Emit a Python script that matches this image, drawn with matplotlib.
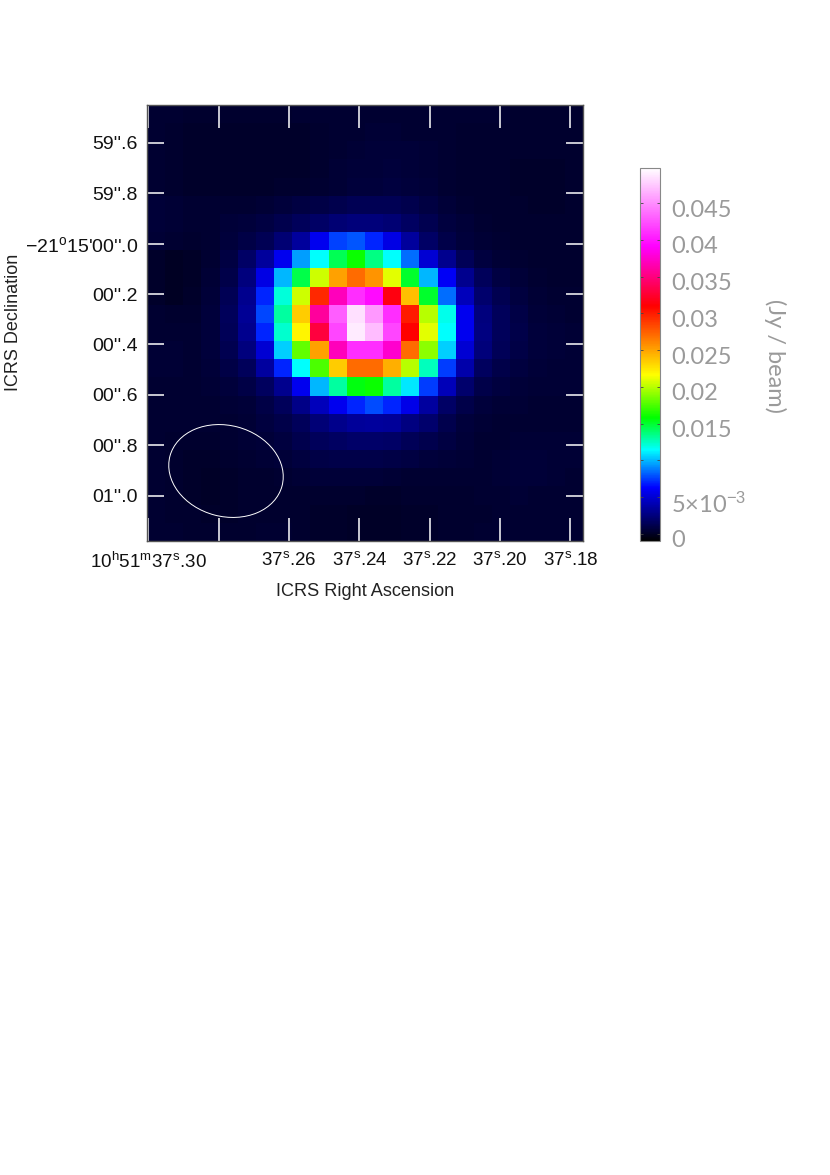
import numpy as np
import matplotlib
matplotlib.use("Agg")
import matplotlib.pyplot as plt
from matplotlib.colors import LinearSegmentedColormap
from matplotlib.patches import Ellipse
from matplotlib.transforms import ScaledTranslation, IdentityTransform

plt.rcParams['font.family'] = ['Liberation Sans', 'DejaVu Sans']
plt.rcParams['mathtext.fontset'] = 'custom'
plt.rcParams['mathtext.rm'] = 'Liberation Sans'
plt.rcParams['mathtext.default'] = 'rm'

# Flux per cell in mJy/beam, rows from top to bottom
flux_mjy = [
 [.3,.3,.25,.2,.2,.2,.2,.25,.3,.3,.3,.3,.3,.35,.3,.3,.3,.3,.3,.3,.25,.25,.25,.25],
 [.3,.2,.15,.1,.1,.1,.1,.15,.15,.2,.3,.35,.4,.4,.35,.3,.3,.25,.25,.2,.2,.2,.2,.25],
 [.3,.2,.1,.1,.1,.1,.1,.1,.15,.2,.35,.45,.5,.55,.5,.4,.3,.25,.2,.2,.2,.2,.2,.2],
 [.3,.2,.1,.1,.1,.1,.1,.15,.15,.25,.4,.5,.55,.6,.55,.45,.3,.25,.2,.2,.15,.15,.15,.2],
 [.35,.25,.15,.1,.1,.15,.15,.2,.25,.35,.45,.6,.65,.7,.6,.5,.35,.25,.2,.2,.15,.15,.15,.2],
 [.5,.4,.3,.3,.3,.35,.4,.6,.8,.9,1.1,1.3,1.35,1.3,1.1,.8,.5,.3,.25,.2,.2,.15,.15,.2],
 [.5,.4,.3,.3,.5,.6,.8,1.1,1.5,1.8,2.2,2.4,2.4,2.2,1.7,1.2,.7,.5,.3,.25,.2,.2,.2,.25],
 [.4,.3,.2,.3,.6,.9,1.3,2.2,3.4,5.8,7.6,8,7,5.5,3.4,1.8,1,.6,.4,.3,.25,.2,.2,.25],
 [.1,-.05,.05,.3,.8,1.8,3.4,5.8,9.5,11.5,14.3,16,13.5,11.5,8.5,5,3,1.4,.7,.4,.3,.2,.2,.25],
 [.1,-.05,.05,.4,1.0,2.5,5.5,10,14.5,20.5,25,27,25.5,21,15,10,6,3,1.5,.8,.5,.3,.25,.25],
 [.1,-.05,.1,.5,1.3,3,7,12,20.5,29.5,37,41,39.5,31.5,24,15,8.5,4.3,2,1.2,.7,.4,.3,.3],
 [.3,.2,.25,.6,1.5,3.2,7.7,13,23.5,36,43,48.5,45.5,41,30,20,11.7,5.8,2.5,1.5,.9,.5,.4,.35],
 [.35,.3,.3,.6,1.4,3,7,12.2,22,33,42,49,47,42,31,21,11.5,5.8,2.6,1.5,1,.6,.5,.4],
 [.4,.4,.35,.6,1.2,2.5,5,10.5,18,25,37,41,41,37.5,27,19,10.5,5,2.4,1.4,.9,.6,.5,.45],
 [.4,.4,.35,.5,.9,1.5,3.5,7,11.5,17.5,23.5,27,27,24.5,20,12.5,7.5,3.8,1.6,1,.7,.5,.45,.45],
 [.35,.35,.35,.4,.6,.9,1.6,3,5.8,10,13,15.5,16,13,11,7.5,4.2,2,1,.7,.5,.4,.4,.4],
 [.3,.3,.3,.3,.4,.5,.9,1.5,2.8,4.3,5.8,7,7.8,7,5.6,3.5,1.8,1,.6,.4,.4,.35,.35,.35],
 [.3,.3,.3,.3,.35,.45,.7,1,1.5,2.3,2.9,3.3,3.4,3.3,2.6,2,1.1,.6,.4,.35,.35,.3,.35,.35],
 [.3,.25,.2,.2,.3,.4,.5,.7,1.1,1.5,1.7,1.9,1.9,1.8,1.4,1.1,.8,.5,.35,.35,.4,.4,.4,.4],
 [.3,.2,.1,.1,.2,.3,.4,.5,.7,.9,1,1,1,.9,.8,.6,.5,.4,.35,.4,.5,.5,.45,.4],
 [.3,.2,.1,.05,.1,.2,.25,.35,.4,.5,.5,.5,.5,.4,.35,.3,.3,.35,.35,.4,.5,.5,.4,.35],
 [.3,.2,.1,.05,.1,.2,.25,.25,.25,.2,.2,.2,.15,.15,.2,.2,.25,.25,.3,.35,.4,.35,.3,.3],
 [.3,.25,.2,.15,.15,.2,.25,.25,.2,.15,.1,.05,.05,.05,.1,.15,.2,.2,.25,.3,.35,.35,.3,.3],
 [.3,.3,.25,.25,.25,.25,.3,.3,.2,.15,.1,.05,.05,.05,.1,.15,.2,.25,.3,.3,.3,.3,.3,.3],
]

ra_ticks = [37.30, 37.28, 37.26, 37.24, 37.22, 37.20, 37.18]
ra_labels = ['10$^{h}$51$^{m}$37$^{s}$.30', '',
             '37$^{s}$.26', '37$^{s}$.24', '37$^{s}$.22', '37$^{s}$.20', '37$^{s}$.18']
dec_ticks = [-0.4, -0.2, 0.0, 0.2, 0.4, 0.6, 0.8, 1.0]   # arcsec south of -21d15m00s
dec_labels = ["59''.6", "59''.8", "\u221221$^{o}$15'00''.0", "00''.2",
              "00''.4", "00''.6", "00''.8", "01''.0"]
ra_left, ra_right = 37.3004, 37.1764
dec_top, dec_bottom = -0.5504, 1.1798

cbar_ticks = [0, 0.005, 0.01, 0.015, 0.02, 0.025, 0.03, 0.035, 0.04, 0.045]
cbar_labels = ['0', '5\u00d710$^{-3}$', '', '0.015', '0.02', '0.025', '0.03', '0.035', '0.04', '0.045']
vmin, vmax = -0.001, 0.0498

cmap_stops = [(0.0, '#000000'), (0.02, '#000028'), (0.142, '#0000ff'), (0.244, '#00ffff'),
              (0.33, '#00ff00'), (0.445, '#ffff00'), (0.63, '#ff0000'), (0.79, '#ff00ff'),
              (1.0, '#ffffff')]
cmap = LinearSegmentedColormap.from_list('casa_rainbow', cmap_stops, N=512)

W, H = 830, 1175
fig = plt.figure(figsize=(W/100, H/100), dpi=100, facecolor='white')
ax = fig.add_axes([147/W, 1-541/H, 436/W, 436/H])
im = ax.imshow(np.array(flux_mjy)/1000, cmap=cmap, vmin=vmin, vmax=vmax, aspect='auto',
               interpolation='nearest', origin='upper',
               extent=(ra_left, ra_right, dec_bottom, dec_top))

for s in ax.spines.values():
    s.set_color('#555555'); s.set_linewidth(1.0)
ax.set_xticks(ra_ticks); ax.set_xticklabels(ra_labels)
ax.set_yticks(dec_ticks); ax.set_yticklabels(dec_labels)
ax.tick_params(axis='x', which='major', direction='in', top=True, bottom=True, length=16.5,
               width=1.1, color='white', labelsize=13.5, labelcolor='#111111', pad=7.5)
ax.tick_params(axis='y', which='major', direction='in', left=True, right=True, length=12,
               width=1.1, color='white', labelsize=14, labelcolor='#111111', pad=6.5)
ax.text(365/W, 1-591/H, 'ICRS Right Ascension', transform=fig.transFigure, fontsize=13.1,
        ha='center', va='center', color='#222222')
ax.text(13/W, 1-322/H, 'ICRS Declination', transform=fig.transFigure, fontsize=13,
        rotation=90, ha='center', va='center', color='#222222')

# Restoring beam: centre and size in pixels of the figure
beam_cx, beam_cy = fig.transFigure.transform((226/W, 1-471/H))
beam_w, beam_h, beam_angle = 116, 91, 15
beam = Ellipse((0, 0), beam_w, beam_h, angle=-beam_angle, fill=False,
               edgecolor='white', linewidth=0.7,
               transform=IdentityTransform() + ScaledTranslation(beam_cx, beam_cy, IdentityTransform()))
ax.add_patch(beam)

cax = fig.add_axes([640/W, 1-541/H, 20/W, 373/H])
cb = fig.colorbar(im, cax=cax)
cb.set_ticks(cbar_ticks); cb.set_ticklabels(cbar_labels)
cb.outline.set_edgecolor('#888888'); cb.outline.set_linewidth(0.8)
cax.tick_params(axis='y', which='major', direction='in', left=True, right=True, length=2,
                width=0.6, color='#444444', labelsize=17, labelcolor='#9a9a9a', pad=8)
offset = ScaledTranslation(0, -5/100, fig.dpi_scale_trans)
for lab in cax.get_yticklabels():
    lab.set_transform(lab.get_transform() + offset)
    lab.set_fontfamily(['Lato', 'DejaVu Sans'])
fig.text(775/W, 1-356/H, '(Jy / beam)', rotation=270, ha='center', va='center', fontsize=17,
         color='#9a9a9a', family=['Lato', 'DejaVu Sans'])

fig.savefig('out.png', dpi=100, facecolor='white')
